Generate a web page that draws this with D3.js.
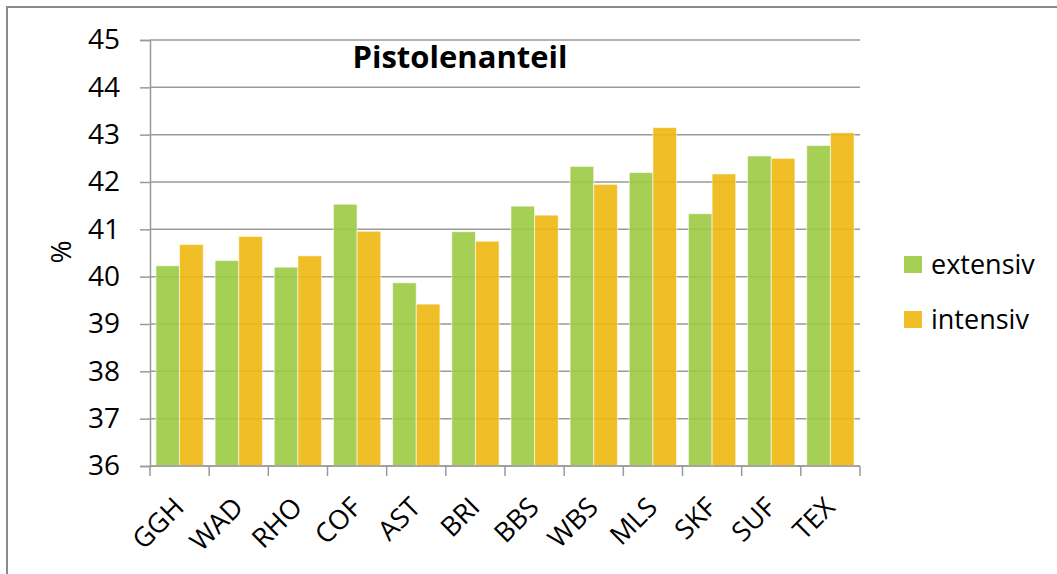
<!DOCTYPE html>
<html>
<head>
<meta charset="utf-8">
<script src="https://cdn.jsdelivr.net/npm/d3@7"></script>
<style>
  body { margin: 0; background: #fff; }
  svg { display: block; font-family: "Open Sans", sans-serif; }
</style>
</head>
<body>
<svg width="1057" height="574"></svg>
<script>
const categories = ['GGH', 'WAD', 'RHO', 'COF', 'AST', 'BRI', 'BBS', 'WBS', 'MLS', 'SKF', 'SUF', 'TEX'];
const extensiv = [40.23, 40.34, 40.20, 41.53, 39.87, 40.95, 41.49, 42.33, 42.20, 41.33, 42.55, 42.77];
const intensiv = [40.68, 40.85, 40.44, 40.96, 39.42, 40.75, 41.30, 41.95, 43.15, 42.17, 42.50, 43.04];
const seriesNames = ['extensiv', 'intensiv'];
const yTicks = [36, 37, 38, 39, 40, 41, 42, 43, 44, 45];

const colors = ['#9bca42', '#eeb710'];
const MARGINS = { top: 40, right: 197, bottom: 108, left: 150 };
const WIDTH = 1057, HEIGHT = 574;

const svg = d3.select('svg');

// outer chart frame (only top and left edges are in view)
svg.append('rect')
   .attr('x', 7).attr('y', 7)
   .attr('width', 1200).attr('height', 700)
   .attr('fill', 'none')
   .attr('stroke', '#8a8a8a')
   .attr('stroke-width', 2);

const x0 = d3.scaleBand()
   .domain(categories)
   .range([MARGINS.left, WIDTH - MARGINS.right])
   .paddingInner(0.2)
   .paddingOuter(0.1);

const x1 = d3.scaleBand()
   .domain(seriesNames)
   .range([0, x0.bandwidth()]);

const y = d3.scaleLinear()
   .domain([36, 45])
   .range([HEIGHT - MARGINS.bottom, MARGINS.top]);

// gridlines + y axis
svg.append('g')
   .attr('transform', 'translate(' + MARGINS.left + ',0)')
   .call(d3.axisLeft(y).tickValues(yTicks).tickSize(10).tickFormat(d3.format('d')))
   .call(g => g.select('.domain').attr('stroke', '#9a9a9a').attr('stroke-width', 1.5))
   .call(g => g.selectAll('.tick line').attr('stroke', '#9a9a9a').attr('stroke-width', 1.5))
   .call(g => g.selectAll('.tick text')
      .attr('x', -30)
      .attr('font-size', 28)
      .attr('fill', '#000')
      .attr('font-family', 'Open Sans'));

svg.append('g')
   .selectAll('line')
   .data(yTicks)
   .join('line')
   .attr('x1', MARGINS.left)
   .attr('x2', WIDTH - MARGINS.right)
   .attr('y1', d => y(d))
   .attr('y2', d => y(d))
   .attr('stroke', '#9a9a9a')
   .attr('stroke-width', 1.5);

// bars
const rows = categories.map((c, i) => ({ cat: c, values: [extensiv[i], intensiv[i]] }));

svg.append('g')
   .selectAll('g')
   .data(rows)
   .join('g')
   .attr('transform', d => 'translate(' + x0(d.cat) + ',0)')
   .selectAll('rect')
   .data(d => d.values.map((v, k) => ({ key: seriesNames[k], value: v, k: k })))
   .join('rect')
   .attr('x', d => x1(d.key))
   .attr('y', d => y(d.value))
   .attr('width', x1.bandwidth())
   .attr('height', d => y(36) - y(d.value))
   .attr('fill', d => colors[d.k])
   .attr('fill-opacity', 0.9)
   .attr('stroke', 'rgba(255,255,255,0.6)')
   .attr('stroke-width', 1);

// x axis: ticks at category boundaries
const step = x0.step();
const boundaries = d3.range(categories.length + 1).map(i => MARGINS.left + i * step);

svg.append('line')
   .attr('x1', MARGINS.left).attr('x2', WIDTH - MARGINS.right)
   .attr('y1', y(36)).attr('y2', y(36))
   .attr('stroke', '#9a9a9a').attr('stroke-width', 1.5);

svg.append('g')
   .selectAll('line')
   .data(boundaries)
   .join('line')
   .attr('x1', d => d).attr('x2', d => d)
   .attr('y1', y(36)).attr('y2', y(36) + 10)
   .attr('stroke', '#9a9a9a')
   .attr('stroke-width', 1.5);

svg.append('g')
   .selectAll('text')
   .data(categories)
   .join('text')
   .attr('transform', d => 'translate(' + (x0(d) + x0.bandwidth() / 2 + 6) + ',' + (y(36) + 43) + ') rotate(-45)')
   .attr('text-anchor', 'end')
   .attr('font-size', 27)
   .attr('fill', '#000')
   .text(d => d);

// title
svg.append('text')
   .attr('x', 460)
   .attr('y', 68)
   .attr('text-anchor', 'middle')
   .attr('font-size', 31)
   .attr('font-weight', 'bold')
   .attr('fill', '#000')
   .text('Pistolenanteil');

// y label
svg.append('text')
   .attr('transform', 'translate(71,252) rotate(-90)')
   .attr('text-anchor', 'middle')
   .attr('font-size', 28)
   .attr('fill', '#000')
   .text('%');

// legend
const legend = svg.append('g')
   .selectAll('g')
   .data(seriesNames)
   .join('g')
   .attr('transform', (d, i) => 'translate(904,' + (256 + i * 55) + ')');

legend.append('rect')
   .attr('width', 18).attr('height', 17)
   .attr('fill', (d, i) => colors[i])
   .attr('fill-opacity', 0.9);

legend.append('text')
   .attr('x', 27)
   .attr('y', 18)
   .attr('font-size', 27)
   .attr('fill', '#000')
   .text(d => d);
</script>
</body>
</html>
